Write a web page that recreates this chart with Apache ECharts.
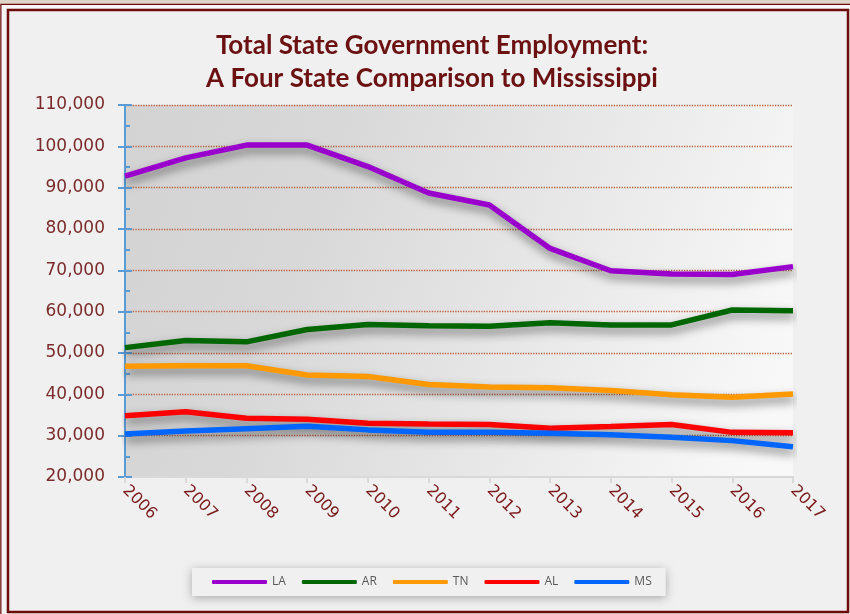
<!DOCTYPE html>
<html>
<head>
<meta charset="utf-8">
<title>Total State Government Employment</title>
<script src="https://cdn.jsdelivr.net/npm/echarts@6/dist/echarts.min.js"></script>
<style>
  html, body { margin: 0; padding: 0; background: #f0f0f0; }
  #chart { width: 850px; height: 614px; }
</style>
</head>
<body>
<div id="chart"></div>
<script>
// years on the x axis
var years = ["2006", "2007", "2008", "2009", "2010", "2011", "2012", "2013", "2014", "2015", "2016", "2017"];

// state employment
var la = [92800, 97200, 100300, 100300, 95100, 88700, 85800, 75300, 69900, 69100, 69000, 70900];
var ar = [51300, 53000, 52700, 55700, 56900, 56600, 56500, 57300, 56800, 56800, 60400, 60200];
var tn = [46800, 46900, 46900, 44700, 44300, 42400, 41800, 41600, 40900, 39900, 39300, 40100];
var al = [34800, 35800, 34200, 34000, 33000, 32800, 32700, 31800, 32200, 32700, 30800, 30700];
var ms = [30400, 31100, 31700, 32300, 31400, 30800, 30800, 30600, 30200, 29600, 28800, 27300];

var seriesNames = ["LA", "AR", "TN", "AL", "MS"];
var seriesColors = ["#9900cc", "#006600", "#ff9900", "#ff0000", "#0066ff"];
var seriesData = [la, ar, tn, al, ms];

var myChart = echarts.init(document.getElementById("chart"));

var series = seriesNames.map(function (name, i) {
  return {
    name: name,
    type: "line",
    data: seriesData[i],
    symbol: "none",
    yAxisIndex: 0,
    color: seriesColors[i],
    lineStyle: {
      width: 5.5,
      color: seriesColors[i],
      shadowColor: "rgba(0,0,0,0.5)",
      shadowBlur: 10,
      shadowOffsetX: 1,
      shadowOffsetY: 5
    },
    z: 3 + i
  };
});

var option = {
  backgroundColor: "#f0f0f0",
  animation: false,
  title: {
    text: "Total State Government Employment:\nA Four State Comparison to Mississippi",
    left: 427,
    top: 24,
    textAlign: "center",
    textStyle: {
      fontFamily: "Lato",
      fontWeight: "bold",
      fontSize: 26,
      lineHeight: 33,
      color: "#6b1111",
      align: "center"
    }
  },
  graphic: [
    // beige strip above the frame
    { type: "rect", shape: { x: 0, y: 0, width: 850, height: 4 }, style: { fill: "#ddd6c8" }, silent: true },
    // outer frame line
    { type: "rect", shape: { x: 1.5, y: 5, width: 900, height: 700 }, style: { fill: "none", stroke: "#6e0a0a", lineWidth: 2.5 }, silent: true },
    // gap between the two lines
    { type: "rect", shape: { x: 3, y: 6.5, width: 900, height: 700 }, style: { fill: "none", stroke: "#f7f7f7", lineWidth: 3 }, silent: true },
    // inner frame line
    { type: "rect", shape: { x: 8, y: 10, width: 840, height: 602 }, style: { fill: "none", stroke: "#6e0a0a", lineWidth: 2.5 }, silent: true }
  ],
  legend: {
    data: seriesNames,
    left: 192,
    top: 568,
    padding: [8, 14, 8, 20],
    itemGap: 16,
    itemWidth: 55,
    itemHeight: 4,
    icon: "roundRect",
    backgroundColor: "#f0f0f0",
    shadowColor: "rgba(0,0,0,0.3)",
    shadowBlur: 10,
    shadowOffsetY: 2,
    textStyle: {
      fontFamily: "Open Sans",
      fontSize: 12,
      color: "#595959"
    }
  },
  grid: {
    left: 125,
    right: 57,
    top: 105,
    bottom: 137,
    show: true,
    borderWidth: 0,
    backgroundColor: new echarts.graphic.LinearGradient(0, 0, 1, 0.6, [
      { offset: 0, color: "#d3d3d3" },
      { offset: 0.3, color: "#d8d8d8" },
      { offset: 1, color: "#f8f8f8" }
    ])
  },
  xAxis: {
    type: "category",
    data: years,
    boundaryGap: false,
    axisLine: { lineStyle: { color: "#d9d9d9", width: 2 } },
    axisTick: { show: true, length: 6, lineStyle: { color: "#d9d9d9", width: 2 } },
    axisLabel: {
      rotate: -45,
      margin: 11,
      fontFamily: "DejaVu Sans",
      fontSize: 16,
      color: "#7b1a1a",
      interval: 0
    },
    splitLine: { show: false }
  },
  yAxis: [
    {
      type: "value",
      min: 20000,
      max: 110000,
      interval: 10000,
      axisLine: { show: true, lineStyle: { color: "#5b9bd5", width: 2 } },
      axisTick: { show: true, length: 7, lineStyle: { color: "#5b9bd5", width: 2 } },
      axisLabel: {
        margin: 20,
        fontFamily: "DejaVu Sans",
        fontSize: 17,
        color: "#7b2b2b",
        formatter: function (v) { return v.toLocaleString("en-US"); }
      },
      splitLine: {
        show: true,
        showMinLine: false,
        lineStyle: { color: "#b9603a", type: "dotted", width: 1.3 }
      }
    },
    {
      // inside ticks, so the major ticks cross the axis
      type: "value",
      position: "left",
      min: 20000,
      max: 110000,
      interval: 10000,
      axisLine: { show: false },
      axisTick: { show: true, inside: true, length: 7, lineStyle: { color: "#5b9bd5", width: 2 } },
      minorTick: { show: true, splitNumber: 2, length: 5, lineStyle: { color: "#5b9bd5", width: 2 } },
      axisLabel: { show: false },
      splitLine: { show: false }
    }
  ],
  series: series
};

myChart.setOption(option);
</script>
</body>
</html>
